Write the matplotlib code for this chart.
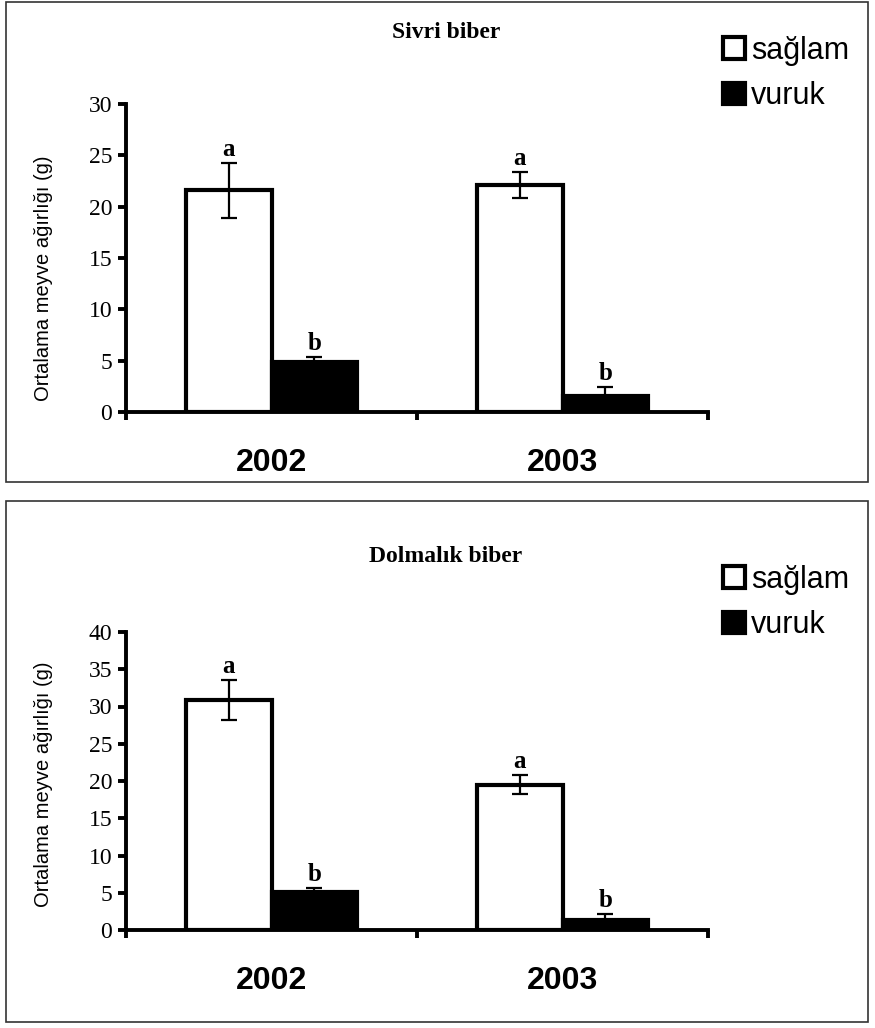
"""Mean fruit weight of sound vs. damaged peppers, 2002-2003."""

import numpy as np
import matplotlib.pyplot as plt
from matplotlib.patches import Rectangle

W, H = 875, 1028

years = ["2002", "2003"]
series = ["sağlam", "vuruk"]

sivri_saglam = [21.6, 22.1]
sivri_saglam_err = [2.7, 1.3]
sivri_vuruk = [4.9, 1.6]
sivri_vuruk_err = [0.5, 0.8]
sivri_letters = [["a", "a"], ["b", "b"]]

dolma_saglam = [30.9, 19.5]
dolma_saglam_err = [2.7, 1.3]
dolma_vuruk = [5.1, 1.3]
dolma_vuruk_err = [0.5, 0.9]
dolma_letters = [["a", "a"], ["b", "b"]]

SERIF = "Liberation Serif"
SANS = "Liberation Sans"


def fx(px):
    return px / W


def fy(py):
    return 1 - py / H


def panel(fig, top_px, bottom_px, frame, title_y, legend_y, ylabel_pos, title,
          saglam, saglam_err, vuruk, vuruk_err, letters, ymax, step):
    ax = fig.add_axes([fx(126), fy(bottom_px), fx(708) - fx(126),
                       fy(top_px) - fy(bottom_px)])
    x = np.arange(len(years)) + 0.5
    w = 0.295
    ekw = dict(ecolor="black", elinewidth=1.6, capsize=6, capthick=1.6)
    b1 = ax.bar(x - w / 2, saglam, w, yerr=saglam_err, color="white",
                edgecolor="black", linewidth=3, error_kw=ekw, label=series[0])
    b2 = ax.bar(x + w / 2, vuruk, w, yerr=vuruk_err, color="black",
                edgecolor="black", linewidth=3, error_kw=ekw, label=series[1])

    for xs, vals, errs, labs in ((x - w / 2, saglam, saglam_err, letters[0]),
                                 (x + w / 2, vuruk, vuruk_err, letters[1])):
        for xi, v, e, t in zip(xs, vals, errs, labs):
            ax.annotate(t, (xi, v + e), xytext=(0, 5), textcoords="offset points",
                        ha="center", va="baseline", fontsize=18,
                        fontweight="bold", family=SERIF)

    ax.set_xlim(0, len(years))
    ax.set_ylim(0, ymax)
    ax.set_yticks(np.arange(0, ymax + 1, step))
    ax.set_xticks([0, 1, 2])
    ax.set_xticklabels([])
    ax.set_xticks(x, years, minor=True)
    for s in ("top", "right"):
        ax.spines[s].set_visible(False)
    for s in ("left", "bottom"):
        ax.spines[s].set_linewidth(2.8)
    ax.tick_params(axis="y", direction="out", length=6, width=2.8,
                   labelsize=17, pad=4)
    ax.tick_params(axis="x", which="major", direction="out", length=6, width=2.8)
    ax.tick_params(axis="x", which="minor", length=0, pad=26)
    for lab in ax.get_yticklabels():
        lab.set_family(SERIF)
    for lab in ax.get_xticklabels(minor=True):
        lab.set_family(SANS)
        lab.set_fontsize(23)
        lab.set_fontweight("bold")

    ax.set_ylabel("Ortalama meyve ağırlığı (g)", family=SANS, fontsize=14.5)
    ax.yaxis.set_label_coords(-0.125, ylabel_pos)

    fig.text(fx(446), fy(title_y), title, ha="center", va="center",
             fontsize=17, fontweight="bold", family=SERIF)
    fig.legend([b1, b2], series, loc="upper left",
               bbox_to_anchor=(fx(723), fy(legend_y)), frameon=False,
               prop=dict(family=SANS, size=22), handlelength=0.72,
               handleheight=0.72, handletextpad=0.2, labelspacing=0.5,
               borderpad=0, borderaxespad=0)

    fig.add_artist(Rectangle((fx(6), fy(frame[1])), fx(868) - fx(6),
                             fy(frame[0]) - fy(frame[1]),
                             transform=fig.transFigure, fill=False,
                             edgecolor="#333333", linewidth=1.2))
    return ax


fig = plt.figure(figsize=(W / 100, H / 100), dpi=100)
panel(fig, 104, 412, (2, 482), 32, 36, 0.435, "Sivri biber", sivri_saglam,
      sivri_saglam_err, sivri_vuruk, sivri_vuruk_err, sivri_letters, 30, 5)
panel(fig, 632, 930, (501, 1022), 557, 565, 0.49, "Dolmalık biber",
      dolma_saglam, dolma_saglam_err, dolma_vuruk, dolma_vuruk_err,
      dolma_letters, 40, 5)
fig.savefig("out.png", dpi=100)
